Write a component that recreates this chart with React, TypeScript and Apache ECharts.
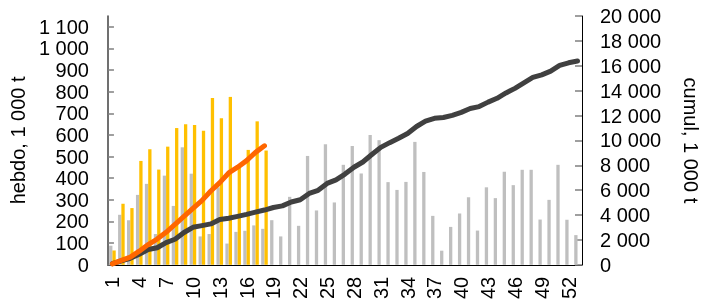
import React, { useEffect, useRef } from "react";
import * as echarts from "echarts";

const weeks: string[] = Array.from({ length: 53 }, (_, i) => String(i + 1));

const greyWeekly: number[] = [
  88, 231, 206, 323, 374, 142, 412, 272, 543, 421,
  131, 142, 358, 98, 152, 157, 182, 166, 206, 131,
  314, 180, 503, 251, 557, 288, 462, 549, 422, 600,
  576, 382, 346, 383, 568, 429, 226, 65, 175, 237,
  312, 158, 358, 308, 430, 368, 439, 439, 209, 300,
  462, 208, 137,
];

const goldWeekly: number[] = [
  66, 282, 262, 480, 534, 440, 546, 632, 649, 646,
  620, 771, 677, 776, 460, 531, 663, 528,
];

const greyCumul: number[] = [
  88, 319, 525, 848, 1222, 1364, 1776, 2048, 2591, 3012,
  3143, 3285, 3643, 3741, 3893, 4050, 4232, 4398, 4604, 4735,
  5049, 5229, 5732, 5983, 6540, 6828, 7290, 7839, 8261, 8861,
  9437, 9819, 10165, 10548, 11116, 11545, 11771, 11836, 12011, 12248,
  12560, 12718, 13076, 13384, 13814, 14182, 14621, 15060, 15269, 15569,
  16031, 16239, 16376,
];

const goldCumul: number[] = [
  66, 348, 610, 1090, 1624, 2064, 2610, 3242, 3891, 4537,
  5157, 5928, 6605, 7381, 7841, 8372, 9035, 9563,
];

const leftTicks: number[] = [0, 100, 200, 300, 400, 500, 600, 700, 800, 900, 1000, 1100];

const fmt = (v: number) => String(v).replace(/\B(?=(\d{3})+(?!\d))/g, " ");

const FONT = "Liberation Sans, Arial, sans-serif";

export default function App() {
  const ref = useRef<HTMLDivElement>(null);
  useEffect(() => {
    if (!ref.current) return;
    const chart = echarts.init(ref.current, undefined, { renderer: "svg" });
    chart.setOption({
      animation: false,
      textStyle: { fontFamily: FONT },
      grid: { left: 99, right: 131, top: 16, bottom: 37, containLabel: false },
      xAxis: {
        type: "category",
        data: weeks,
        boundaryGap: true,
        axisLine: { show: true, lineStyle: { color: "#000", width: 1 } },
        axisTick: { show: false },
        axisLabel: {
          interval: 2,
          rotate: 90,
          fontSize: 20,
          color: "#000",
          margin: 12,
          fontFamily: FONT,
        },
      },
      yAxis: [
        {
          type: "value",
          min: 0,
          max: 1150,
          interval: 100,
          name: "hebdo, 1 000 t",
          nameLocation: "middle",
          nameGap: 68,
          nameRotate: 90,
          nameTextStyle: { fontSize: 20, color: "#000", fontFamily: FONT },
          axisLine: { show: true, lineStyle: { color: "#404040", width: 1.5 } },
          axisTick: {
            show: true,
            inside: true,
            length: 6,
            customValues: leftTicks,
            lineStyle: { color: "#7f7f7f", width: 1.5 },
          },
          axisLabel: {
            fontSize: 20,
            color: "#000",
            margin: 19,
            customValues: leftTicks,
            fontFamily: FONT,
            formatter: (v: number) => (v > 1100 ? "" : fmt(v)),
          },
          splitLine: { show: false },
        },
        {
          type: "value",
          position: "right",
          min: 0,
          max: 20000,
          interval: 2000,
          name: "cumul, 1 000 t",
          nameLocation: "middle",
          nameGap: 99,
          nameRotate: -90,
          nameTextStyle: { fontSize: 20, color: "#000", fontFamily: FONT },
          axisLine: { show: true, lineStyle: { color: "#000", width: 1 } },
          axisTick: {
            show: true,
            inside: true,
            length: 7,
            lineStyle: { color: "#7f7f7f", width: 1.5 },
          },
          axisLabel: {
            fontSize: 20,
            color: "#000",
            margin: 18,
            fontFamily: FONT,
            formatter: (v: number) => fmt(v),
          },
          splitLine: { show: false },
        },
      ],
      series: [
        {
          type: "bar",
          data: greyWeekly,
          yAxisIndex: 0,
          barWidth: 3.3,
          barGap: "0%",
          itemStyle: { color: "#bfbfbf" },
          z: 2,
        },
        {
          type: "bar",
          data: goldWeekly,
          yAxisIndex: 0,
          barWidth: 3.3,
          barGap: "0%",
          itemStyle: { color: "#ffc000" },
          z: 2,
        },
        {
          type: "line",
          data: greyCumul,
          yAxisIndex: 1,
          symbol: "none",
          lineStyle: { color: "#404040", width: 5, cap: "round", join: "round" },
          itemStyle: { color: "#404040" },
          z: 3,
        },
        {
          type: "line",
          data: goldCumul,
          yAxisIndex: 1,
          symbol: "none",
          lineStyle: { color: "#ff6600", width: 5, cap: "round", join: "round" },
          itemStyle: { color: "#ff6600" },
          z: 4,
        },
      ],
    });
    return () => chart.dispose();
  }, []);
  return (
    <div
      ref={ref}
      style={{ position: "fixed", left: 0, top: 0, width: 713, height: 302 }}
    />
  );
}
